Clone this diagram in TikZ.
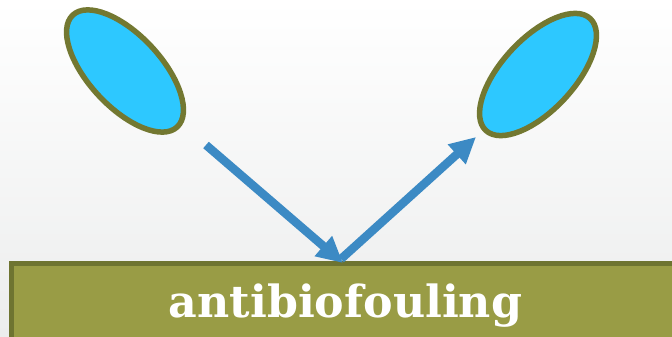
\documentclass[tikz,border=0pt]{standalone}
\usepackage{fontspec}
\setmainfont{DejaVu Serif}
\usepackage{tikz}
\usetikzlibrary{arrows.meta}
\usetikzlibrary{shapes.geometric}
\definecolor{cellblue}{HTML}{2DC8FF}
\definecolor{cellrim}{HTML}{737831}
\definecolor{arrowblue}{HTML}{3C8AC4}
\definecolor{surfacefill}{HTML}{999C45}
\definecolor{surfacerim}{HTML}{6E7431}
\definecolor{bgbottom}{HTML}{ECEDED}

\begin{document}
\begin{tikzpicture}[x=1pt, y=1pt, >={Triangle[length=26pt, width=25pt]},
  cell/.style={ellipse, draw=cellrim, fill=cellblue, line width=5.5pt, minimum width=153pt, minimum height=72pt, inner sep=0pt},
  bounce/.style={->, draw=arrowblue, line width=8.5pt},
  surface/.style={draw=surfacerim, fill=surfacefill, line width=5pt, inner sep=0pt},]
\shade[top color=white, bottom color=bgbottom] (0,0) rectangle (672,337);
\useasboundingbox (0,0) rectangle (672,337);
\clip (0,0) rectangle (672,337);
\node[cell, rotate=-47] (in) at (125, 266) {};
\node[cell, rotate=47] (out) at (538, 262.5) {};
\node[surface, anchor=north west, minimum width=700pt, minimum height=100pt] (surface) at (9, 76) {};
\node[font=\bfseries\fontsize{44.3}{44}\selectfont, text=white, anchor=base] (word) at (345.5, 19) {antibiofouling};
\coordinate (start) at (206, 192);
\coordinate (hit) at (343, 74);
\coordinate (leave) at (341, 78);
\coordinate (end) at (476, 200);
  \draw[bounce] (leave)--(end);
  \draw[bounce] (start)--(hit);
\end{tikzpicture}
\end{document}
